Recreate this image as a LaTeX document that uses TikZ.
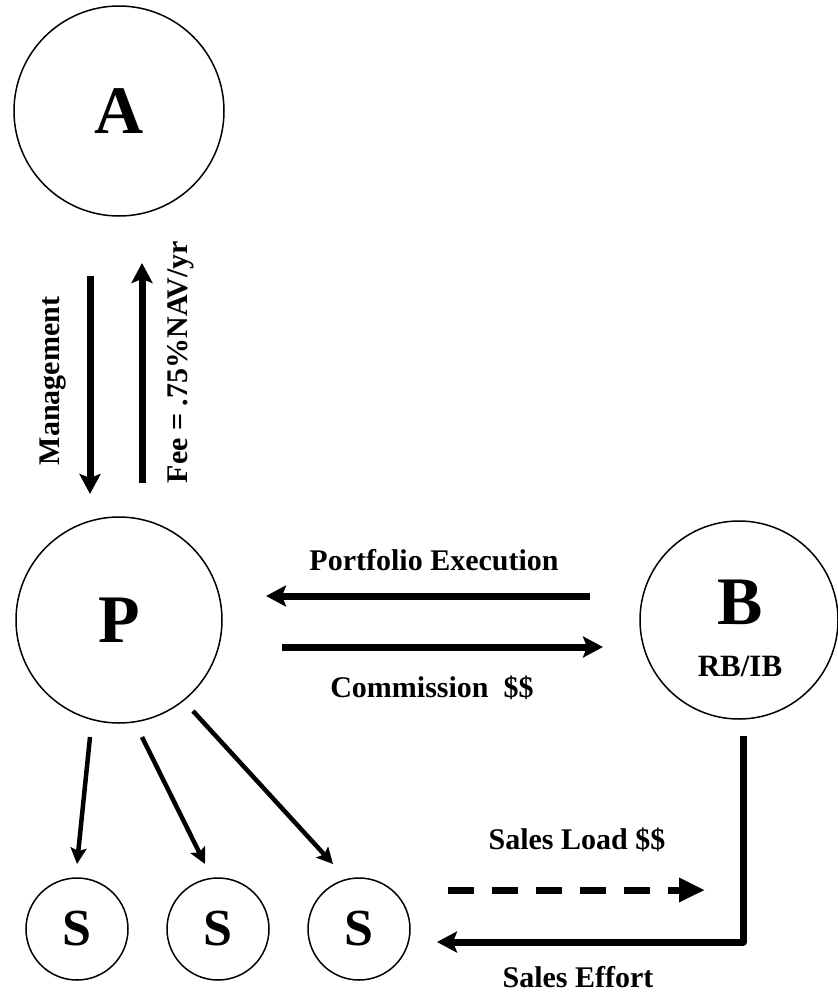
\documentclass[tikz,border=0pt]{standalone}
\usepackage{fontspec}
\setmainfont{Liberation Serif}
\usetikzlibrary{arrows.meta,calc}
\tikzset{
    party/.style =  {circle,
                    fill=white,
                    draw=black,
                    text=black,
                    line width=1.5pt,
                    inner sep=0pt,
                    font=\fontsize{68}{70}\selectfont\bfseries},
    seller/.style = {circle,
                    fill=white,
                    draw=black,
                    text=black,
                    line width=1.5pt,
                    inner sep=0pt,
                    minimum size=102pt,
                    font=\fontsize{52}{54}\selectfont\bfseries},
    tag/.style =    {text=black,
                    inner sep=0pt,
                    font=\fontsize{30}{32}\selectfont\bfseries},
    flow/.style =   {draw=black,
                    line width=7pt,
                    -{Stealth[length=20pt,width=21pt,inset=4pt]}},
    thin flow/.style = {draw=black,
                    line width=4.5pt,
                    -{Stealth[length=16pt,width=16pt,inset=3pt]}},
    -,
    x=1pt, y=-1pt}

\begin{document}
\begin{tikzpicture}
        \useasboundingbox (0,0) rectangle (838,999);
                % the parties
                \node[party, minimum size=210pt]  (A)  at (119,111)  {A};
                \node[party, minimum size=206pt]  (P)  at (119,620)  {P};
                \node[party, minimum size=198pt]  (B)  at (739,620)  {};
                \node[tag, font=\fontsize{68}{70}\selectfont\bfseries] (Bname) at (740,602) {B};
                \node[tag, font=\fontsize{31}{33}\selectfont\bfseries] (Btype) at (740,666) {RB/IB};
                \node[seller]  (S1) at (77,929)  {S};
                \node[seller]  (S2) at (218,929) {S};
                \node[seller]  (S3) at (359,929) {S};

                % end points of the arrows
                \coordinate (mgTop) at (90,276);
                \coordinate (mgBot) at (90,494);
                \coordinate (feBot) at (142,483);
                \coordinate (feTop) at (142,263);
                \coordinate (peR) at (590,596);
                \coordinate (peL) at (266,596);
                \coordinate (coL) at (282,647);
                \coordinate (coR) at (603,647);
                \coordinate (s1a) at (90,737);
                \coordinate (s1b) at (77,864);
                \coordinate (s2a) at (142,737);
                \coordinate (s2b) at (205,864);
                \coordinate (s3a) at (193,711);
                \coordinate (s3b) at (333,864);
                \coordinate (slL) at (448,890);
                \coordinate (slR) at (705,890);
                \coordinate (seTop) at (743,736);
                \coordinate (seEnd) at (437,942);

                % labels
                \node[tag, rotate=90] (mgTxt) at (53,381)  {Management};
                \node[tag, rotate=90] (feTxt) at (181,362) {Fee = .75\%NAV/yr};
                \node[tag] (peTxt) at (434,560) {Portfolio Execution};
                \node[tag] (coTxt) at (432,688) {Commission~~\$\$};
                \node[tag] (slTxt) at (577,840) {Sales Load \$\$};
                \node[tag] (seTxt) at (578,977) {Sales Effort};

                \path   (mgTop) edge [flow] (mgBot)
                        (feBot) edge [flow] (feTop)
                        (peR)   edge [flow] (peL)
                        (coL)   edge [flow] (coR);
                \path   (s1a) edge [thin flow] (s1b)
                        (s2a) edge [thin flow] (s2b)
                        (s3a) edge [thin flow] (s3b);
                \draw [draw=black, line width=7pt, dash pattern=on 26pt off 18pt,
                       -{Triangle[length=26pt,width=23pt]}] (slL) -- (slR);
                \draw [flow, line join=round] (seTop) |- (seEnd);
        \end{tikzpicture}
\end{document}
